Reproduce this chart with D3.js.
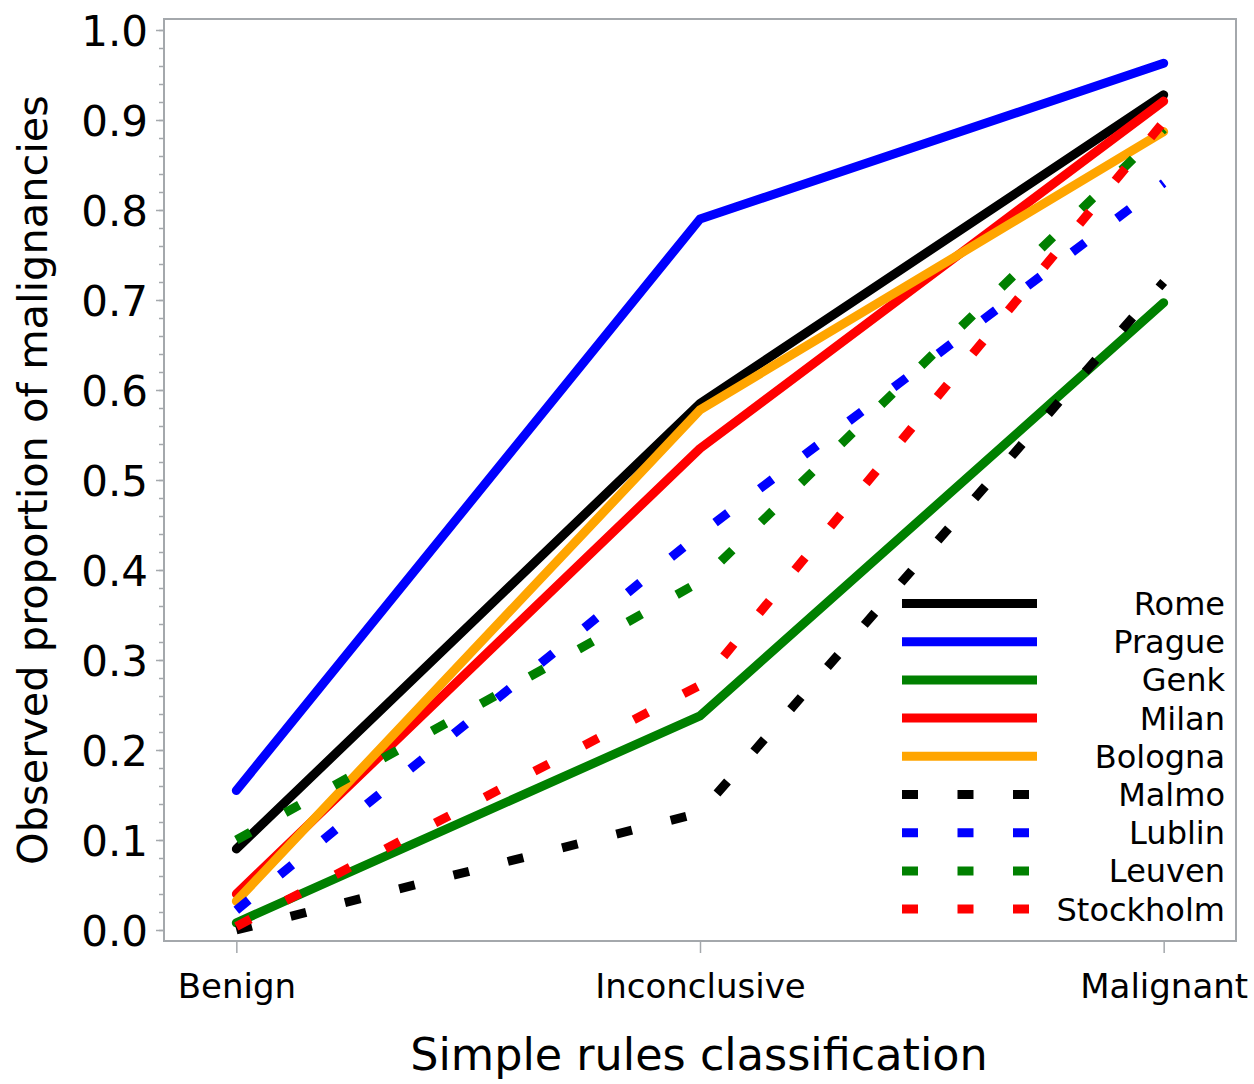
<!DOCTYPE html>
<html lang="en">
<head>
    <meta charset="UTF-8">
    <title>Observed proportion of malignancies</title>
    <style>
        body { margin: 0; background: #fff; }
        text { fill: #000; }
    </style>
</head>
<body>
    <svg width="1254" height="1084" id="svg"></svg>
    <script src="https://d3js.org/d3.v7.min.js"></script>
    <script>
        // categories on the x axis
        let categories = ["Benign", "Inconclusive", "Malignant"]
        let yTicks = [0, 0.1, 0.2, 0.3, 0.4, 0.5, 0.6, 0.7, 0.8, 0.9, 1.0]

        // one array per centre, in category order
        let rome      = [0.090, 0.585, 0.928]
        let prague    = [0.155, 0.790, 0.963]
        let genk      = [0.008, 0.238, 0.697]
        let milan     = [0.040, 0.535, 0.921]
        let bologna   = [0.032, 0.578, 0.887]
        let malmo     = [0.000, 0.130, 0.720]
        let lublin    = [0.022, 0.440, 0.830]
        let leuven    = [0.100, 0.387, 0.890]
        let stockholm = [0.004, 0.272, 0.898]

        let names  = ["Rome", "Prague", "Genk", "Milan", "Bologna", "Malmo", "Lublin", "Leuven", "Stockholm"]
        let values = [rome, prague, genk, milan, bologna, malmo, lublin, leuven, stockholm]
        let colors = ["#000000", "#0000ff", "#008000", "#ff0000", "#ffa500", "#000000", "#0000ff", "#008000", "#ff0000"]
        let dashed = [false, false, false, false, false, true, true, true, true]

        let series = names.map((n, i) => ({
            name: n, color: colors[i], dashed: dashed[i],
            points: values[i].map((v, j) => ({ cat: categories[j], value: v }))
        }))

        var svg = d3.select("svg")
        // plot frame (window.top is read-only, so no bare "top")
        var frameL = 164, frameR = 1236, frameT = 19, frameB = 941
        var axisGrey = "#a4a8ac"
        var lineW = 9

        var xScale = d3.scalePoint().domain(categories).range([frameL, frameR]).padding(0.156)
        var yScale = d3.scaleLinear().domain([0, 1]).range([930, 30])

        svg.append("rect")
            .attr("x", frameL).attr("y", frameT)
            .attr("width", frameR - frameL).attr("height", frameB - frameT)
            .attr("fill", "none").attr("stroke", axisGrey).attr("stroke-width", 2)

        // minor ticks on y
        svg.append("g")
            .attr("transform", "translate(" + frameL + ",0)")
            .call(d3.axisLeft(yScale).tickValues(d3.range(0, 1.001, 0.02)).tickSize(5).tickFormat(""))
            .call(g => g.select(".domain").remove())
            .call(g => g.selectAll("line").attr("stroke", axisGrey).attr("stroke-width", 1.5))

        // major ticks + labels on y
        svg.append("g")
            .attr("transform", "translate(" + frameL + ",0)")
            .call(d3.axisLeft(yScale).tickValues(yTicks).tickSize(8).tickPadding(8).tickFormat(d3.format(".1f")))
            .call(g => g.select(".domain").remove())
            .call(g => g.selectAll("line").attr("stroke", axisGrey).attr("stroke-width", 1.5))
            .call(g => g.selectAll("text")
                .attr("font-family", "DejaVu Sans").attr("font-size", 42)
                .attr("dy", "0.36em").attr("fill", "#000"))

        // x axis
        svg.append("g")
            .attr("transform", "translate(0," + frameB + ")")
            .call(d3.axisBottom(xScale).tickSize(12).tickSizeOuter(0))
            .call(g => g.select(".domain").remove())
            .call(g => g.selectAll("line").attr("stroke", axisGrey).attr("stroke-width", 1.5))
            .call(g => g.selectAll("text")
                .attr("font-family", "DejaVu Sans")
                .attr("font-size", 34)
                .attr("y", 57).attr("dy", null).attr("fill", "#000"))

        // axis titles
        svg.append("text")
            .attr("x", 699).attr("y", 1070)
            .attr("text-anchor", "middle")
            .attr("font-family", "DejaVu Sans").attr("font-size", 44.5)
            .text("Simple rules classification")

        svg.append("text")
            .attr("transform", "translate(47,480) rotate(-90)")
            .attr("text-anchor", "middle")
            .attr("font-family", "DejaVu Sans Condensed, DejaVu Sans")
            .attr("font-stretch", "condensed")
            .attr("font-size", 40)
            .attr("textLength", 770).attr("lengthAdjust", "spacingAndGlyphs")
            .text("Observed proportion of malignancies")

        // lines
        var line = d3.line()
            .x(d => xScale(d.cat))
            .y(d => yScale(d.value))

        svg.append("g").selectAll("path")
            .data(series)
            .enter()
            .append("path")
            .attr("d", d => line(d.points))
            .attr("fill", "none")
            .attr("stroke", d => d.color)
            .attr("stroke-width", lineW)
            .attr("stroke-linejoin", "round")
            .attr("stroke-linecap", d => d.dashed ? "butt" : "round")
            .attr("stroke-dasharray", d => d.dashed ? "16,40" : null)

        // legend, white box over the lines
        var legend = svg.append("g")
        legend.append("rect")
            .attr("x", 893).attr("y", 586).attr("width", 340).attr("height", 350)
            .attr("fill", "#fff")

        var rows = legend.selectAll("g.row")
            .data(series)
            .enter()
            .append("g")
            .attr("class", "row")
            .attr("transform", (d, i) => "translate(0," + (603.5 + i * 38.2) + ")")

        rows.append("line")
            .attr("x1", 902).attr("x2", 1037)
            .attr("stroke", d => d.color)
            .attr("stroke-width", lineW)
            .attr("stroke-dasharray", d => d.dashed ? "16,39.5" : null)

        rows.append("text")
            .attr("x", 1225).attr("dy", "0.36em")
            .attr("text-anchor", "end")
            .attr("font-family", "DejaVu Sans").attr("font-size", 32)
            .text(d => d.name)
    </script>
</body>
</html>
